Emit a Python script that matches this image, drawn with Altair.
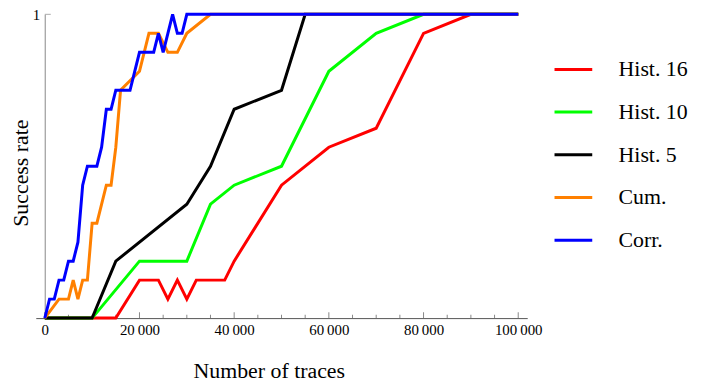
import altair as alt
import pandas as pd

FONT = "Liberation Serif"

series_names = ["Hist. 16", "Hist. 10", "Hist. 5", "Cum.", "Corr."]
series_colors = ["#ff0000", "#00ff00", "#000000", "#ff8000", "#0000ff"]

hist16_x = [0, 15000, 20000, 24000, 26000, 28000, 30000, 32000, 38000, 40000, 50000, 60000, 70000, 80000, 90000, 100000]
hist16_y = [0, 0, 2/16, 2/16, 1/16, 2/16, 1/16, 2/16, 2/16, 3/16, 7/16, 9/16, 10/16, 15/16, 1, 1]

hist10_x = [0, 10000, 20000, 30000, 35000, 40000, 50000, 60000, 70000, 80000, 100000]
hist10_y = [0, 0, 3/16, 3/16, 6/16, 7/16, 8/16, 13/16, 15/16, 1, 1]

hist5_x = [0, 10000, 15000, 30000, 35000, 40000, 50000, 55000, 100000]
hist5_y = [0, 0, 3/16, 6/16, 8/16, 11/16, 12/16, 1, 1]

cum_x = [0, 3000, 5000, 6000, 7000, 8000, 9000, 10000, 11000, 13000, 14000, 15000, 16000,
         20000, 22000, 24000, 26000, 28000, 30000, 35000, 100000]
cum_y = [0, 1/16, 1/16, 2/16, 1/16, 2/16, 2/16, 5/16, 5/16, 7/16, 7/16, 9/16, 12/16,
         13/16, 15/16, 15/16, 14/16, 14/16, 15/16, 1, 1]

corr_x = [0, 1000, 2000, 3000, 4000, 5000, 6000, 7000, 8000, 9000, 11000, 12000, 13000, 14000,
          15000, 18000, 20000, 23000, 24000, 25000, 27000, 28000, 29000, 30000, 100000]
corr_y = [0, 1/16, 1/16, 2/16, 2/16, 3/16, 3/16, 4/16, 7/16, 8/16, 8/16, 9/16, 11/16, 11/16,
          12/16, 12/16, 14/16, 14/16, 15/16, 14/16, 1, 15/16, 15/16, 1, 1]

major_ticks = [0, 20000, 40000, 60000, 80000, 100000]
minor_ticks = [5000, 10000, 15000, 25000, 30000, 35000, 45000, 50000, 55000,
               65000, 70000, 75000, 85000, 90000, 95000]
y_ticks = [1]

rows = []
for name, xs, ys in zip(series_names,
                        [hist16_x, hist10_x, hist5_x, cum_x, corr_x],
                        [hist16_y, hist10_y, hist5_y, cum_y, corr_y]):
    for x, y in zip(xs, ys):
        rows.append({"series": name, "traces": x, "rate": y})
df = pd.DataFrame(rows)

xscale = alt.Scale(domain=[-1900, 101900], nice=False, zero=False)
yscale = alt.Scale(domain=[0, 1], nice=False, zero=False)

lines = alt.Chart(df).mark_line(strokeWidth=3, strokeCap="butt").encode(
    x=alt.X("traces:Q", scale=xscale,
            axis=alt.Axis(values=major_ticks, ticks=False, grid=False,
                          labelExpr="replace(format(datum.value, ','), ',', '\u2009')",
                          labelFont=FONT, labelFontSize=15, labelColor="#000",
                          labelPadding=5, domainColor="#555",
                          title="Number of traces", titleFont=FONT, titleFontSize=22,
                          titleFontWeight="normal", titleColor="#000",
                          titleX=234.7, titleY=52.7, titleBaseline="middle")),
    y=alt.Y("rate:Q", scale=yscale,
            axis=alt.Axis(values=y_ticks, ticks=False, grid=False, offset=-9,
                          labelExpr="format(datum.value, 'd')",
                          labelFont=FONT, labelFontSize=15, labelColor="#000",
                          labelPadding=5, domainColor="#888",
                          title="Success rate", titleFont=FONT, titleFontSize=22,
                          titleFontWeight="normal", titleColor="#000",
                          titleX=-24.7, titleY=159.5, titleBaseline="middle")),
    color=alt.Color("series:N",
                    scale=alt.Scale(domain=series_names, range=series_colors),
                    legend=alt.Legend(title=None, orient="none", legendX=521, legendY=35,
                                      symbolType="stroke", symbolSize=1444,
                                      symbolStrokeWidth=3, labelFont=FONT,
                                      labelFontSize=22, labelOffset=25, rowPadding=11,
                                      padding=0, labelColor="#000")),
)

tick_df = pd.DataFrame({"v": major_ticks + minor_ticks,
                        "kind": ["major"] * len(major_ticks) + ["minor"] * len(minor_ticks),
                        "base": [0] * (len(major_ticks) + len(minor_ticks))})

major = alt.Chart(tick_df[tick_df.kind == "major"]).mark_tick(
    orient="vertical", size=6, thickness=1, color="#555", yOffset=-3
).encode(x=alt.X("v:Q", scale=xscale), y=alt.Y("base:Q", scale=yscale))

minor = alt.Chart(tick_df[tick_df.kind == "minor"]).mark_tick(
    orient="vertical", size=3.5, thickness=1, color="#555", yOffset=-1.75
).encode(x=alt.X("v:Q", scale=xscale), y=alt.Y("base:Q", scale=yscale))

ytick_df = pd.DataFrame({"v": y_ticks, "base": [0] * len(y_ticks)})
ytick = alt.Chart(ytick_df).mark_tick(
    orient="horizontal", size=6, thickness=1, color="#888", xOffset=3
).encode(x=alt.X("base:Q", scale=xscale), y=alt.Y("v:Q", scale=yscale))

chart = alt.layer(major, minor, ytick, lines).properties(
    width=495, height=306,
    autosize=alt.AutoSizeParams(type="none"),
    padding={"left": 28, "top": 5, "right": 168, "bottom": 63},
).configure_view(stroke=None)

chart.save("out.html", embed_options={"renderer": "svg", "actions": False})
